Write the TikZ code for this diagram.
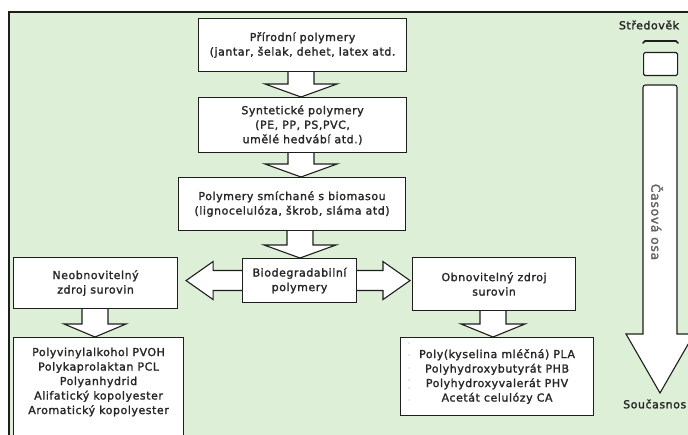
\documentclass[tikz,border=0pt]{standalone}
\usepackage{fontspec}
\setmainfont{DejaVu Sans}[LetterSpace=5,FakeBold=1.6,AutoFakeBold=1.6]
\usetikzlibrary{calc}
\definecolor{bgreen}{HTML}{DDEFD7}
\definecolor{ink}{HTML}{1E1E1E}
\definecolor{txt}{HTML}{262626}
\newcommand\dgfont{\fontsize{11}{14.5}\selectfont\bfseries}
\pgfdeclarelayer{framelayer}
\pgfdeclarelayer{arrowlayer}
\pgfsetlayers{framelayer,arrowlayer,main}
\newcommand\blockdown[4]{%
  \draw[blk] let \p1=(#1.south), \p2=(#2.north) in
   (#3-13pt,\y1) -- (#3-13pt,\y2+13pt) -- (#3-#4,\y2+13pt) -- (#3,\y2)
   -- (#3+#4,\y2+13pt) -- (#3+13pt,\y2+13pt) -- (#3+13pt,\y1);}
\begin{document}
\begin{tikzpicture}[x=1pt,y=-1pt,
  box/.style={draw=ink, line width=1.1pt, fill=white, inner sep=0pt, align=center,
    font=\dgfont, text=txt, anchor=north west},
  blk/.style={draw=ink, line width=1.1pt, fill=white, line join=miter},
  lbl/.style={inner sep=0pt, font=\dgfont, text=txt, align=center}]
\useasboundingbox (0,0) rectangle (688,435);
\clip (0,0) rectangle (688,435);
\begin{pgfonlayer}{framelayer}
\fill[white] (0,0) rectangle (688,435);
\draw[fill=bgreen, draw=ink, line width=1.3pt] (9,12) rectangle (720,470);
\end{pgfonlayer}

\node[box, minimum width=208pt, minimum height=53pt] (b1) at (198,18)
  {Přírodní polymery\\(jantar, šelak, dehet, latex atd.};
\node[box, minimum width=208pt, minimum height=55pt] (b2) at (198,97)
  {Syntetické polymery\\(PE, PP, PS,PVC,\\umělé hedvábí atd.)};
\node[box, minimum width=227pt, minimum height=53pt] (b3) at (178,177)
  {Polymery smíchané s biomasou\\(lignocelulóza, škrob, sláma atd)};
\node[box, minimum width=114pt, minimum height=44pt] (b4) at (242,258)
  {Biodegradabilní\\polymery};
\node[box, minimum width=164pt, minimum height=51pt] (bl) at (13,257)
  {Neobnovitelný\\zdroj surovin};
\node[box, minimum width=163pt, minimum height=53pt] (br) at (412,257)
  {Obnovitelný zdroj\\surovin};
\node[box, minimum width=170pt, minimum height=130pt] (bll) at (13,337) {};
\node[lbl] (bllt) at ($(bll.north)+(0,45)$)
  {Polyvinylalkohol PVOH\\Polykaprolaktan PCL\\Polyanhydrid\\Alifatický kopolyester\\Aromatický kopolyester};
\node[box, minimum width=193pt, minimum height=78pt] (brr) at (400,337)
  {Poly(kyselina mléčná) PLA\\Polyhydroxybutyrát PHB\\Polyhydroxyvalerát PHV\\Acetát celulózy CA};

\begin{pgfonlayer}{arrowlayer}
\blockdown{b1}{b2}{301pt}{36pt}
\blockdown{b2}{b3}{301pt}{36pt}
\blockdown{b3}{b4}{300pt}{36pt}
\blockdown{bl}{bll}{95pt}{31pt}
\blockdown{br}{brr}{493pt}{32pt}
\draw[blk] let \p1=(b4.center), \p2=(bl.east), \p3=(br.west) in
  (\x2+8pt,\y1) -- (\x2+35pt,\y1+19pt) -- (\x2+35pt,\y1+10pt) -- (\x3-29pt,\y1+10pt)
  -- (\x3-29pt,\y1+19pt) -- (\x3-2pt,\y1) -- (\x3-29pt,\y1-19pt) -- (\x3-29pt,\y1-10pt)
  -- (\x2+35pt,\y1-10pt) -- (\x2+35pt,\y1-19pt) -- cycle;
\end{pgfonlayer}

% small dots left of the right list
\foreach \yy in {343,355,368,380,388,400}
  \fill[gray!70] (409,\yy) circle (0.6);

% time axis
\node[lbl] (tstart) at (649,25) {Středověk};
\draw[ink, line width=1.6pt, line cap=round] (643,43) -- (645,41) -- (676,41) -- (678,43);
\node[box, minimum width=34pt, minimum height=23pt, rounded corners=1.5pt] (tbox) at (643,52) {};
\draw[blk] (626,334) -- (643,334) [rounded corners=2.5pt] -- (643,85) -- (677,85)
  [sharp corners] -- (677,334) -- (694,334) -- (660,393) -- cycle;
\node[lbl, rotate=-90, text=black!62, font=\fontsize{12.5}{14}\selectfont\bfseries] (taxis) at (657,222) {Časová osa};
\node[lbl, anchor=west] (tend) at (623,404) {Současnos};
\end{tikzpicture}
\end{document}
